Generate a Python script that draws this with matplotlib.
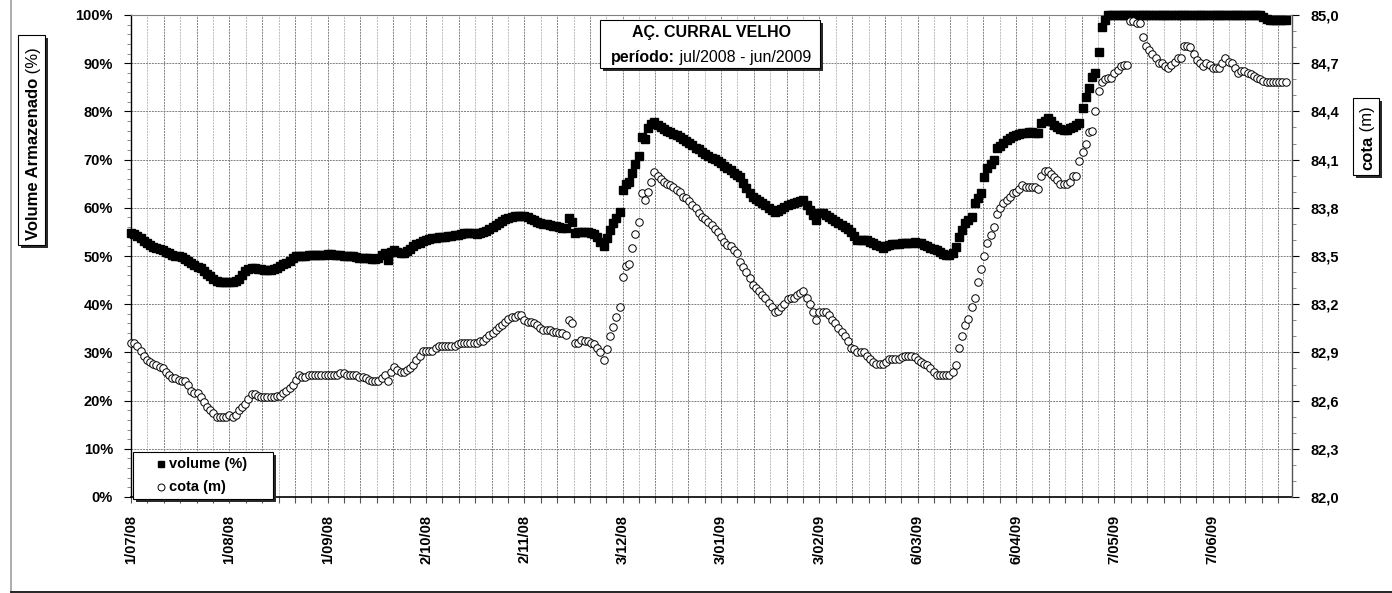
import numpy as np
import matplotlib.pyplot as plt
from matplotlib.patches import Rectangle
from matplotlib.lines import Line2D
from matplotlib.ticker import FuncFormatter, MultipleLocator

plt.rcParams['font.family'] = ['Liberation Sans', 'DejaVu Sans']
plt.rcParams['font.weight'] = 'bold'

# daily values, 1/07/2008 onwards
volume = [
    54.8, 54.6, 54.2, 53.8, 53.2, 52.6, 52.2, 51.9, 51.7, 51.5,
    51.2, 50.9, 50.6, 50.3, 50.0, 49.9, 49.7, 49.4, 49.0, 48.6,
    48.2, 47.8, 47.5, 46.9, 46.3, 45.9, 45.3, 44.8, 44.6, 44.6,
    44.6, 44.6, 44.6, 44.8, 45.3, 46.0, 46.8, 47.3, 47.5, 47.5,
    47.3, 47.2, 47.1, 47.1, 47.1, 47.2, 47.5, 47.9, 48.3, 48.6,
    49.0, 49.5, 49.9, 50.1, 50.0, 50.1, 50.2, 50.2, 50.2, 50.2,
    50.2, 50.3, 50.4, 50.4, 50.3, 50.2, 50.2, 50.1, 50.0, 50.0,
    49.9, 49.8, 49.6, 49.5, 49.6, 49.5, 49.4, 49.4, 49.5, 50.2,
    50.6, 49.2, 50.8, 51.2, 50.9, 50.6, 50.7, 51.0, 51.5, 52.0,
    52.4, 52.8, 53.1, 53.3, 53.5, 53.7, 53.8, 53.9, 54.0, 54.0,
    54.1, 54.2, 54.3, 54.4, 54.5, 54.7, 54.8, 54.8, 54.7, 54.6,
    54.8, 55.0, 55.2, 55.6, 56.0, 56.4, 56.8, 57.2, 57.6, 57.9,
    58.1, 58.3, 58.4, 58.4, 58.2, 58.0, 57.7, 57.4, 57.0, 56.9,
    56.7, 56.6, 56.5, 56.3, 56.2, 56.0, 55.9, 55.8, 57.9, 57.1,
    54.8, 55.0, 55.0, 55.0, 54.9, 54.8, 54.5, 54.0, 53.0, 52.1,
    53.7, 55.4, 56.8, 57.8, 59.1, 63.7, 64.9, 65.4, 67.3, 69.0,
    70.8, 74.7, 74.3, 76.6, 77.4, 77.8, 77.2, 76.8, 76.3, 76.0,
    75.7, 75.4, 75.1, 74.7, 74.3, 73.9, 73.4, 73.0, 72.5, 72.1,
    71.6, 71.2, 70.8, 70.4, 70.1, 69.7, 69.2, 68.7, 68.2, 67.8,
    67.3, 66.8, 66.4, 65.2, 64.1, 63.0, 62.2, 61.8, 61.4, 61.0,
    60.5, 60.0, 59.5, 59.1, 59.4, 59.8, 60.2, 60.5, 60.8, 61.0,
    61.2, 61.4, 61.6, 60.6, 59.5, 58.5, 57.5, 58.9, 58.9, 58.5,
    58.1, 57.7, 57.2, 56.8, 56.4, 56.0, 55.5, 55.0, 54.2, 53.3,
    53.3, 53.3, 53.3, 53.0, 52.6, 52.3, 52.0, 51.7, 52.0, 52.3,
    52.4, 52.5, 52.5, 52.6, 52.7, 52.7, 52.8, 52.9, 52.8, 52.6,
    52.3, 52.0, 51.7, 51.5, 51.2, 50.9, 50.5, 50.2, 50.3, 50.6,
    51.9, 54.0, 55.4, 56.8, 57.4, 58.1, 61.0, 62.0, 63.1, 66.4,
    68.3, 69.1, 69.9, 72.4, 72.9, 73.4, 74.0, 74.5, 74.8, 75.1,
    75.3, 75.5, 75.6, 75.7, 75.7, 75.6, 75.5, 77.6, 78.1, 78.6,
    78.0, 77.2, 76.8, 76.4, 76.1, 76.2, 76.5, 76.8, 77.2, 77.6,
    80.7, 83.0, 84.9, 87.1, 88.0, 92.3, 97.5, 99.0, 100, 100,
    100, 100, 100, 100, 100, 100, 100, 100, 100, 100,
    100, 100, 100, 100, 100, 100, 100, 100, 100, 100,
    100, 100, 100, 100, 100, 100, 100, 100, 100, 100,
    100, 100, 100, 100, 100, 100, 100, 100, 100, 100,
    100, 100, 100, 100, 100, 100, 100, 99.6, 99.2, 99.0,
    99.0, 99.0, 99.0, 99.0, 99.0,
]

cota = [
    82.96, 82.96, 82.94, 82.91, 82.88, 82.85, 82.84, 82.83, 82.82, 82.81,
    82.80, 82.78, 82.76, 82.74, 82.74, 82.73, 82.72, 82.72, 82.70, 82.66,
    82.65, 82.65, 82.62, 82.59, 82.56, 82.54, 82.52, 82.50, 82.50, 82.50,
    82.50, 82.51, 82.50, 82.51, 82.54, 82.56, 82.58, 82.61, 82.64, 82.64,
    82.63, 82.62, 82.62, 82.62, 82.62, 82.62, 82.63, 82.63, 82.65, 82.66,
    82.68, 82.70, 82.73, 82.76, 82.75, 82.75, 82.76, 82.76, 82.76, 82.76,
    82.76, 82.76, 82.76, 82.76, 82.76, 82.76, 82.77, 82.77, 82.76, 82.76,
    82.76, 82.76, 82.75, 82.75, 82.74, 82.73, 82.72, 82.72, 82.72, 82.74,
    82.76, 82.72, 82.78, 82.81, 82.79, 82.78, 82.78, 82.79, 82.80, 82.82,
    82.85, 82.88, 82.91, 82.91, 82.91, 82.91, 82.93, 82.94, 82.94, 82.94,
    82.94, 82.94, 82.94, 82.95, 82.96, 82.96, 82.96, 82.96, 82.96, 82.96,
    82.97, 82.97, 82.99, 83.01, 83.02, 83.04, 83.06, 83.07, 83.09, 83.11,
    83.12, 83.12, 83.13, 83.13, 83.10, 83.09, 83.09, 83.08, 83.07, 83.05,
    83.04, 83.04, 83.04, 83.03, 83.03, 83.02, 83.02, 83.01, 83.10, 83.08,
    82.96, 82.96, 82.98, 82.97, 82.97, 82.96, 82.95, 82.93, 82.90, 82.85,
    82.92, 83.00, 83.06, 83.12, 83.18, 83.37, 83.44, 83.45, 83.55, 83.64,
    83.71, 83.89, 83.85, 83.90, 83.96, 84.02, 84.00, 83.98, 83.96, 83.95,
    83.94, 83.93, 83.91, 83.90, 83.87, 83.86, 83.84, 83.82, 83.80, 83.77,
    83.74, 83.73, 83.71, 83.69, 83.67, 83.65, 83.62, 83.59, 83.57, 83.56,
    83.54, 83.52, 83.46, 83.43, 83.40, 83.36, 83.32, 83.30, 83.28, 83.26,
    83.24, 83.21, 83.18, 83.15, 83.16, 83.18, 83.20, 83.23, 83.24, 83.24,
    83.26, 83.27, 83.28, 83.24, 83.20, 83.15, 83.10, 83.15, 83.15, 83.15,
    83.13, 83.10, 83.08, 83.05, 83.03, 83.00, 82.97, 82.93, 82.92, 82.90,
    82.90, 82.90, 82.88, 82.86, 82.84, 82.83, 82.83, 82.83, 82.84, 82.86,
    82.86, 82.86, 82.86, 82.87, 82.88, 82.88, 82.88, 82.87, 82.85, 82.84,
    82.83, 82.82, 82.80, 82.78, 82.76, 82.76, 82.76, 82.76, 82.76, 82.78,
    82.82, 82.93, 83.00, 83.07, 83.11, 83.18, 83.24, 83.34, 83.42, 83.50,
    83.58, 83.63, 83.68, 83.76, 83.80, 83.83, 83.85, 83.87, 83.89, 83.90,
    83.92, 83.94, 83.93, 83.93, 83.93, 83.93, 83.92, 84.00, 84.03, 84.03,
    84.01, 83.99, 83.97, 83.95, 83.95, 83.95, 83.96, 84.00, 84.00, 84.09,
    84.15, 84.20, 84.27, 84.28, 84.40, 84.53, 84.58, 84.60, 84.61, 84.61,
    84.64, 84.66, 84.68, 84.69, 84.69, 84.96, 84.96, 84.95, 84.95, 84.86,
    84.81, 84.78, 84.76, 84.73, 84.70, 84.70, 84.68, 84.67, 84.69, 84.71,
    84.73, 84.73, 84.81, 84.81, 84.80, 84.76, 84.72, 84.70, 84.68, 84.70,
    84.69, 84.67, 84.67, 84.67, 84.70, 84.73, 84.71, 84.70, 84.67, 84.64,
    84.65, 84.65, 84.64, 84.63, 84.62, 84.61, 84.60, 84.59, 84.58, 84.58,
    84.58, 84.58, 84.58, 84.58, 84.58,
]

date_labels = ['1/07/08', '1/08/08', '1/09/08', '2/10/08', '2/11/08', '3/12/08',
               '3/01/09', '3/02/09', '6/03/09', '6/04/09', '7/05/09', '7/06/09']

days = np.arange(len(volume))

W, H = 1392, 593


def fx(px):
    return px / W


def fy(py):
    return 1 - py / H


fig = plt.figure(figsize=(W / 100, H / 100), dpi=100)
ax = fig.add_axes([fx(131), fy(497), (1292 - 131) / W, (497 - 15) / H])
ax2 = ax.twinx()

# grid: every 31/6 days vertical (alternating dark / light), 10% horizontal
step = 31 / 6
for k in range(1, 72):
    xg = k * step
    if xg >= 366:
        break
    if k % 2 == 0:
        ax.axvline(xg, color='#808080', lw=0.7, ls=(0, (2, 1)), zorder=0.5)
    else:
        ax.axvline(xg, color='#bcbcbc', lw=0.7, ls=(0, (2, 1)), zorder=0.5)
for yg in range(10, 101, 10):
    ax.axhline(yg, color='#808080', lw=0.7, ls=(0, (2, 1)), zorder=0.5)

ax.plot(days, volume, ls='none', marker='s', ms=5.3, color='black',
        clip_on=False, zorder=3)
ax2.plot(days, cota, ls='none', marker='o', ms=5.4, mfc='white', mec='black',
         mew=0.7, clip_on=False, zorder=3)

ax.set_xlim(0, 366)
ax.set_ylim(0, 100)
ax2.set_ylim(82, 85)

ax.set_xticks([31 * i for i in range(len(date_labels))])
ax.set_xticklabels(date_labels, rotation=90, fontsize=10.5, fontweight='bold')
ax.set_xticks(np.arange(0, 366, step), minor=True)
ax.tick_params(axis='x', which='both', direction='out', length=4, width=0.8,
               color='#555555', pad=9)

ax.yaxis.set_major_locator(MultipleLocator(10))
ax.yaxis.set_minor_locator(MultipleLocator(2))
ax.yaxis.set_major_formatter(FuncFormatter(lambda v, p: f'{v:.0f}%'))
ax.tick_params(axis='y', which='major', length=5, width=0.8, labelsize=10.5, pad=8)
ax.tick_params(axis='y', which='minor', length=3, width=0.6, color='#777777')

ax2.set_yticks(np.linspace(82, 85, 11))
ax2.set_yticks(np.linspace(82, 85, 31), minor=True)
ax2.yaxis.set_major_formatter(FuncFormatter(lambda v, p: f'{v:.1f}'.replace('.', ',')))
ax2.tick_params(axis='y', which='major', length=5, width=0.8, labelsize=10.5, pad=8)
ax2.tick_params(axis='y', which='minor', length=3, width=0.6, color='#777777')

for s in ['left', 'bottom', 'top']:
    ax2.spines[s].set_visible(False)
ax.spines['right'].set_visible(False)
ax.spines['top'].set_color('#808080')
ax.spines['top'].set_linewidth(0.8)
ax.spines['left'].set_linewidth(1.0)
ax.spines['bottom'].set_linewidth(1.2)
ax2.spines['right'].set_color('#555555')
ax2.spines['right'].set_linewidth(1.0)

# chart area border (partly visible)
fig.add_artist(Line2D([fx(11), fx(11)], [fy(0), fy(592)], transform=fig.transFigure,
                      color='#a0a0a0', lw=1.2))
fig.add_artist(Line2D([fx(11), fx(1392)], [fy(592), fy(592)], transform=fig.transFigure,
                      color='black', lw=1.2))


def shadow_box(x0, y0, x1, y1):
    fig.add_artist(Rectangle((fx(x0 + 3), fy(y1 + 3)), (x1 - x0) / W, (y1 - y0) / H,
                             transform=fig.transFigure, fc='#2a2a2a', ec='none', zorder=5))
    fig.add_artist(Rectangle((fx(x0), fy(y1)), (x1 - x0) / W, (y1 - y0) / H,
                             transform=fig.transFigure, fc='white', ec='black', lw=0.8,
                             zorder=6))


renderer = fig.canvas.get_renderer()

# title box
shadow_box(600, 20, 820, 68)
fig.text(fx(711), fy(33), 'AÇ. CURRAL VELHO', ha='center', va='center',
         fontsize=11.5, fontweight='bold', zorder=7)
t1 = fig.text(0, fy(62), 'período:', fontsize=11.5, fontweight='bold', va='baseline', zorder=7)
t2 = fig.text(0, fy(62), ' jul/2008 - jun/2009', fontsize=11.5, fontweight='normal',
              va='baseline', zorder=7)
w1 = t1.get_window_extent(renderer).width
w2 = t2.get_window_extent(renderer).width
x_start = 711 - (w1 + w2) / 2
t1.set_x(fx(x_start))
t2.set_x(fx(x_start + w1))

# left axis label box
shadow_box(18, 35, 45, 245)
l1 = fig.text(fx(38), fy(240), 'Volume Armazenado', rotation=90, rotation_mode='anchor',
              ha='left', va='baseline', fontsize=12, fontweight='bold', zorder=7)
h1 = l1.get_window_extent(renderer).height
fig.text(fx(38), fy(240 - h1), ' (%)', rotation=90, rotation_mode='anchor',
         ha='left', va='baseline', fontsize=12, fontweight='normal', zorder=7)

# right axis label box
shadow_box(1353, 98, 1379, 175)
r1 = fig.text(fx(1372), fy(170), 'cota', rotation=90, rotation_mode='anchor',
              ha='left', va='baseline', fontsize=12, fontweight='bold', zorder=7)
hr = r1.get_window_extent(renderer).height
fig.text(fx(1372), fy(170 - hr), ' (m)', rotation=90, rotation_mode='anchor',
         ha='left', va='baseline', fontsize=12, fontweight='normal', zorder=7)

# legend
shadow_box(133, 452, 273, 499)
fig.add_artist(Line2D([fx(161)], [fy(464)], transform=fig.transFigure, marker='s',
                      ms=4.5, color='black', ls='none', zorder=7))
fig.add_artist(Line2D([fx(161)], [fy(487)], transform=fig.transFigure, marker='o',
                      ms=5, mfc='white', mec='black', mew=0.7, ls='none', zorder=7))
fig.text(fx(169), fy(464), 'volume (%)', va='center', fontsize=10.5, fontweight='bold', zorder=7)
fig.text(fx(169), fy(487), 'cota (m)', va='center', fontsize=10.5, fontweight='bold', zorder=7)

fig.savefig('out.png', dpi=100, facecolor='white')
